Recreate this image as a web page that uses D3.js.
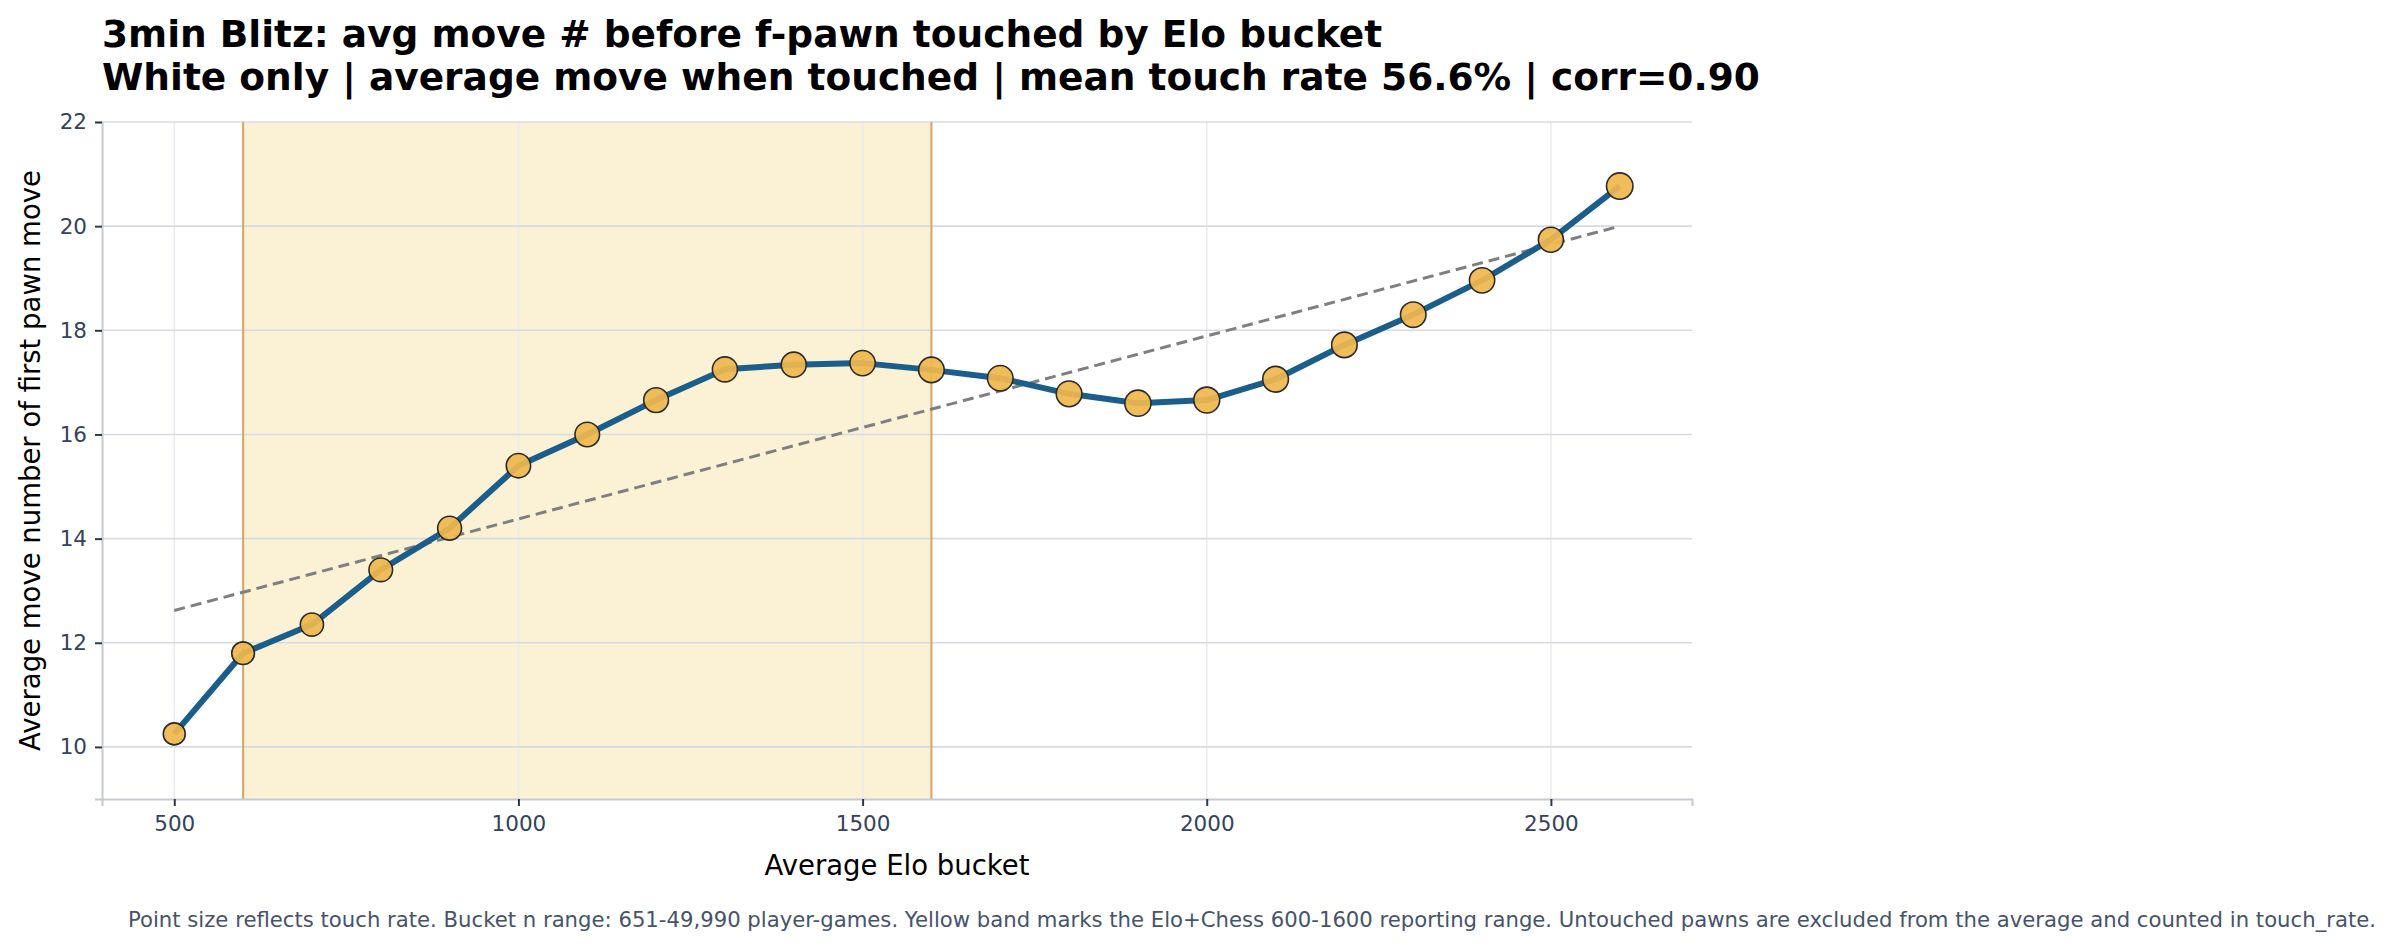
<!DOCTYPE html>
<html>
<head>
<meta charset="utf-8">
<script src="https://cdn.jsdelivr.net/npm/d3@7"></script>
<style>
  body { margin: 0; background: #fff; }
  text { font-family: "DejaVu Sans", sans-serif; }
</style>
</head>
<body>
<script>
// data
const eloBuckets = [500, 600, 700, 800, 900, 1000, 1100, 1200, 1300, 1400, 1500,
                    1600, 1700, 1800, 1900, 2000, 2100, 2200, 2300, 2400, 2500, 2600];
const avgMove = [10.25, 11.8, 12.35, 13.4, 14.2, 15.4, 16.0, 16.66, 17.25, 17.34, 17.37,
                 17.24, 17.08, 16.78, 16.6, 16.66, 17.06, 17.72, 18.3, 18.96, 19.74, 20.77];
// touch rate
const touchRate = [0.45, 0.48, 0.50, 0.52, 0.53, 0.55, 0.56, 0.57, 0.58, 0.58, 0.59,
                   0.60, 0.60, 0.61, 0.63, 0.62, 0.61, 0.60, 0.60, 0.59, 0.58, 0.64];
const trendElo = [500, 2600];
const trendMove = [12.62, 20.0];
const bandRange = [600, 1600];
const xTicks = [500, 1000, 1500, 2000, 2500];
const yTicks = [10, 12, 14, 16, 18, 20, 22];

const titleLines = [
  "3min Blitz: avg move # before f-pawn touched by Elo bucket",
  "White only | average move when touched | mean touch rate 56.6% | corr=0.90"
];
const footnote = "Point size reflects touch rate. Bucket n range: 651-49,990 player-games. Yellow band marks the Elo+Chess 600-1600 reporting range. Untouched pawns are excluded from the average and counted in touch_rate.";

const width = 2394, height = 950;
const m = { left: 102, top: 122, right: 1692, bottom: 799 };

const svg = d3.select("body").append("svg")
  .attr("width", width)
  .attr("height", height);

const x = d3.scaleLinear().domain([395, 2705]).range([m.left, m.right]);
const y = d3.scaleLinear().domain([9, 22]).range([m.bottom, m.top]);
const r = d3.scaleLinear().domain([0.45, 0.64]).range([11, 13.2]);

// reporting band
svg.append("rect")
  .attr("x", x(bandRange[0]))
  .attr("y", m.top)
  .attr("width", x(bandRange[1]) - x(bandRange[0]))
  .attr("height", m.bottom - m.top)
  .attr("fill", "#fbf1d4");

// grid
svg.append("g").selectAll("line").data(xTicks).join("line")
  .attr("x1", d => x(d)).attr("x2", d => x(d))
  .attr("y1", m.top).attr("y2", m.bottom)
  .attr("stroke", "#e9ebf0").attr("stroke-width", 1.5);
svg.append("g").selectAll("line").data(yTicks).join("line")
  .attr("x1", m.left).attr("x2", m.right)
  .attr("y1", d => y(d)).attr("y2", d => y(d))
  .attr("stroke", "#d7dbe1").attr("stroke-width", 1.6);

// band edges
svg.append("g").selectAll("line").data(bandRange).join("line")
  .attr("x1", d => x(d)).attr("x2", d => x(d))
  .attr("y1", m.top).attr("y2", m.bottom)
  .attr("stroke", "#d9a462").attr("stroke-width", 2);

// axes
const xAxis = svg.append("g")
  .attr("transform", `translate(0,${m.bottom})`)
  .call(d3.axisBottom(x).tickValues(xTicks).tickFormat(d3.format("d")).tickSize(7).tickPadding(10));
const yAxis = svg.append("g")
  .attr("transform", `translate(${m.left},0)`)
  .call(d3.axisLeft(y).tickValues(yTicks).tickFormat(d3.format("d")).tickSize(7).tickPadding(8));

[xAxis, yAxis].forEach(ax => {
  ax.select(".domain").attr("stroke", "#c5c9d0").attr("stroke-width", 2);
  ax.selectAll(".tick line").attr("stroke", "#2e3a4b").attr("stroke-width", 2);
  ax.selectAll(".tick text")
    .attr("fill", "#34425a")
    .style("font-size", "21.5px")
    .style("font-family", "DejaVu Sans, sans-serif");
});

// trend
svg.append("line")
  .attr("x1", x(trendElo[0])).attr("y1", y(trendMove[0]))
  .attr("x2", x(trendElo[1])).attr("y2", y(trendMove[1]))
  .attr("stroke", "#7f7f7f")
  .attr("stroke-width", 3)
  .attr("stroke-dasharray", "11,6");

const pts = eloBuckets.map((e, i) => ({ elo: e, v: avgMove[i], t: touchRate[i] }));

svg.append("path")
  .datum(pts)
  .attr("d", d3.line().x(d => x(d.elo)).y(d => y(d.v)))
  .attr("fill", "none")
  .attr("stroke", "#1c5e8b")
  .attr("stroke-width", 6)
  .attr("stroke-linejoin", "round");

svg.append("g").selectAll("circle").data(pts).join("circle")
  .attr("cx", d => x(d.elo))
  .attr("cy", d => y(d.v))
  .attr("r", d => r(d.t))
  .attr("fill", "#efb84e")
  .attr("fill-opacity", 0.93)
  .attr("stroke", "#2a2a2a")
  .attr("stroke-width", 1.6);

// titles
svg.append("g").selectAll("text").data(titleLines).join("text")
  .attr("x", m.left)
  .attr("y", (d, i) => 47 + i * 43)
  .attr("font-size", 37.5)
  .attr("font-weight", "bold")
  .attr("fill", "#000")
  .text(d => d);

svg.append("text")
  .attr("x", (m.left + m.right) / 2)
  .attr("y", 875)
  .attr("text-anchor", "middle")
  .attr("font-size", 27.5)
  .attr("fill", "#000")
  .text("Average Elo bucket");

svg.append("text")
  .attr("transform", `translate(40,${(m.top + m.bottom) / 2}) rotate(-90)`)
  .attr("text-anchor", "middle")
  .attr("font-size", 27.5)
  .attr("fill", "#000")
  .text("Average move number of first pawn move");

svg.append("text")
  .attr("x", 1252)
  .attr("y", 927)
  .attr("text-anchor", "middle")
  .attr("font-size", 21.2)
  .attr("fill", "#46536a")
  .text(footnote);
</script>
</body>
</html>
